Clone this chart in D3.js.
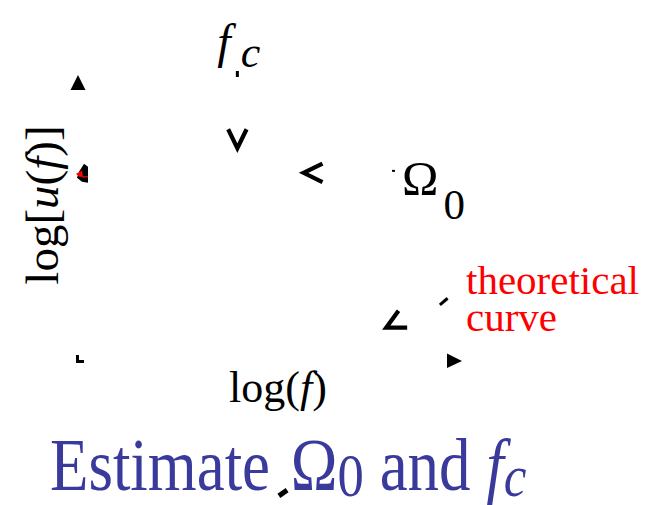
<!DOCTYPE html>
<html>
<head>
<meta charset="utf-8">
<script src="https://cdn.jsdelivr.net/npm/d3@7"></script>
<style>
  html, body { margin: 0; padding: 0; background: #fff; }
  svg { display: block; }
  text { font-family: "Liberation Serif", "Times New Roman", serif; }
</style>
</head>
<body>
<svg id="chart" width="660" height="505"></svg>
<script>
// Axis extents in log units (log f horizontally, log u vertically)
const logFDomain = [0, 4];
const logUDomain = [0, 3];

// Source-spectrum parameters
const cornerLogF = 1.66;      // log fc
const plateauLogU = 1.97;     // log Ω0

// Pointer arrowheads: tip position [log f, log u] and pointing direction (deg)
const pointerTips = [
  { name: "fc",     at: [1.66, 2.23], dir: 90 },
  { name: "omega0", at: [2.35, 1.97], dir: 180 },
  { name: "theory", at: [3.21, 0.34], dir: 153 }
];
// Leader fragment next to the "theoretical curve" note
const leaderSeg = [[3.77, 0.58], [3.85, 0.65]];

// Text labels
const xAxisLabel = ["log(", "f", ")"];
const yAxisLabel = ["log[", "u", "(", "f", ")]"];
const curveNote = ["theoretical", "curve"];
const titleParts = ["Estimate ", "Ω", "0", " and ", "f", "c"];

const svg = d3.select("#chart");
const x = d3.scaleLinear().domain(logFDomain).range([78, 462]);
const y = d3.scaleLinear().domain(logUDomain).range([360, 75]);

const X0 = x(logFDomain[0]), Y0 = y(logUDomain[0]);
const X1 = x(logFDomain[1]), Y1 = y(logUDomain[1]);

// Axis arrowheads
svg.append("path")
  .attr("d", `M${X0},${Y1} L${X0 - 7.5},${Y1 + 15} L${X0 + 7.5},${Y1 + 15} Z`)
  .attr("fill", "#000");
svg.append("path")
  .attr("d", `M${X1},${Y0 + 1} L${X1 - 15},${Y0 - 6.5} L${X1 - 15},${Y0 + 8} Z`)
  .attr("fill", "#000");

// Origin corner
svg.append("path")
  .attr("d", `M${X0 - 0.5},${Y0 - 5} L${X0 - 0.5},${Y0 + 1.5} L${X0 + 6},${Y0 + 1.5}`)
  .attr("fill", "none").attr("stroke", "#000").attr("stroke-width", 3);

// Start of the spectrum on the log u axis at the plateau level
const py = y(plateauLogU);
svg.append("path")
  .attr("d", `M${X0 + 6},${py - 9} L${X0 + 10},${py - 6} L${X0 + 10},${py + 10} L${X0 + 4},${py + 9} L${X0 - 1},${py + 5} L${X0 + 1},${py - 1} Z`)
  .attr("fill", "#000");
svg.append("path")
  .attr("d", `M${X0 - 2},${py + 1} L${X0 + 4},${py - 2} L${X0 + 5},${py + 4} L${X0 + 1},${py + 4} Z`)
  .attr("fill", "#f00");
svg.append("line")
  .attr("x1", X0 + 4).attr("y1", py + 4).attr("x2", X0 + 10).attr("y2", py + 4)
  .attr("stroke", "#f00").attr("stroke-width", 1.2);

// Open chevron arrowheads on the pointers
function chevron(tx, ty, dir, len, half) {
  const back = (dir + 180) * Math.PI / 180;
  const a1 = back - half * Math.PI / 180, a2 = back + half * Math.PI / 180;
  return `M${tx + len * Math.cos(a1)},${ty + len * Math.sin(a1)} L${tx},${ty} L${tx + len * Math.cos(a2)},${ty + len * Math.sin(a2)}`;
}
svg.selectAll("path.pointer")
  .data(pointerTips)
  .join("path")
  .attr("class", "pointer")
  .attr("d", d => chevron(x(d.at[0]), y(d.at[1]), d.dir, 21, d.name === "theory" ? 27 : 26))
  .attr("fill", "none").attr("stroke", "#000").attr("stroke-width", 4.2)
  .attr("stroke-linejoin", "miter");

svg.append("line")
  .attr("x1", x(leaderSeg[0][0])).attr("y1", y(leaderSeg[0][1]))
  .attr("x2", x(leaderSeg[1][0])).attr("y2", y(leaderSeg[1][1]))
  .attr("stroke", "#000").attr("stroke-width", 3);

// Small leader stubs beside the fc and Ω0 labels
const fx = x(cornerLogF);
svg.append("rect").attr("x", fx - 1.5).attr("y", 71).attr("width", 3).attr("height", 6).attr("fill", "#000");
svg.append("rect").attr("x", 392).attr("y", py - 3).attr("width", 3).attr("height", 2).attr("fill", "#000");

// fc label
const fcLabel = svg.append("text").attr("x", fx - 20).attr("y", 58).attr("font-size", 48);
fcLabel.append("tspan").attr("font-style", "italic").text("f");
fcLabel.append("tspan").attr("font-style", "italic").attr("dy", 9).attr("dx", 10).attr("font-size", 44).text("c");

// Ω0 label
const omLabel = svg.append("text").attr("x", 402).attr("y", py + 22).attr("font-size", 49);
omLabel.append("tspan").text("Ω");
omLabel.append("tspan").attr("dy", 24).attr("dx", 5).attr("font-size", 43).text("0");

// Axis titles
const xl = svg.append("text").attr("x", 278).attr("y", 402)
  .attr("text-anchor", "middle").attr("font-size", 44);
xAxisLabel.forEach((s, i) => xl.append("tspan").attr("font-style", i === 1 ? "italic" : "normal").text(s));

const yl = svg.append("text").attr("transform", "translate(58,205) rotate(-90)")
  .attr("text-anchor", "middle").attr("font-size", 47);
yAxisLabel.forEach((s, i) => yl.append("tspan").attr("font-style", (i === 1 || i === 3) ? "italic" : "normal").text(s));

// Note on the theoretical curve
svg.append("text").attr("x", 466).attr("y", 294).attr("font-size", 41).attr("fill", "#f00").text(curveNote[0]);
svg.append("text").attr("x", 466).attr("y", 331).attr("font-size", 41).attr("fill", "#f00").text(curveNote[1]);

// Title
const title = svg.append("text").attr("fill", "#3a3a9c").attr("font-size", 74)
  .attr("transform", "translate(50,490) scale(0.85,1)");
title.append("tspan").text(titleParts[0]);
title.append("tspan").attr("dx", 6).text(titleParts[1]);
title.append("tspan").attr("dy", 6).attr("font-size", 62).text(titleParts[2]);
title.append("tspan").attr("dy", -6).text(titleParts[3]);
title.append("tspan").attr("font-style", "italic").text(titleParts[4]);
title.append("tspan").attr("font-style", "italic").attr("dy", 6).attr("font-size", 60).text(titleParts[5]);

// Small mark between the title words
svg.append("rect").attr("x", -5).attr("y", -2.5).attr("width", 10).attr("height", 5)
  .attr("fill", "#000").attr("transform", "translate(283,493) rotate(-35)");
</script>
</body>
</html>
